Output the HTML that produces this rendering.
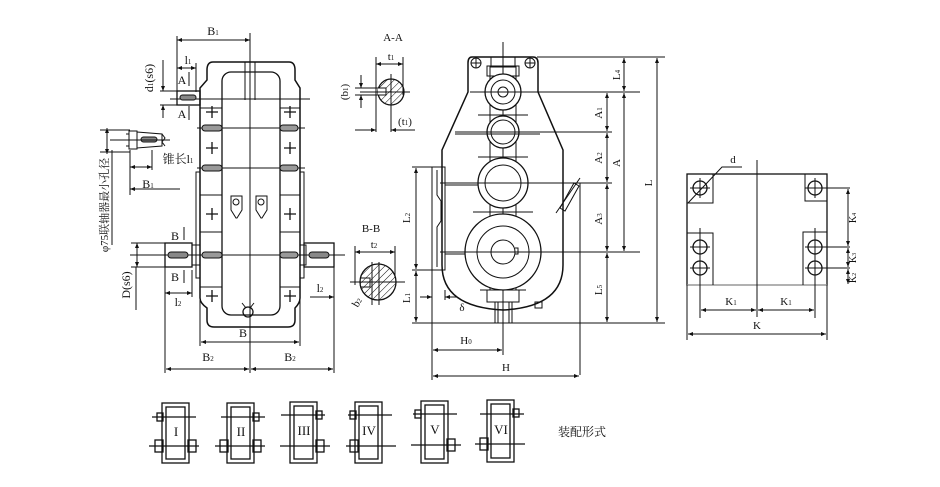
<!DOCTYPE html>
<html><head><meta charset="utf-8"><style>
html,body{margin:0;padding:0;background:#fff;}
svg{display:block;font-family:"Liberation Serif","Noto Serif CJK SC",serif;}
</style></head><body>
<svg width="940" height="487" viewBox="0 0 940 487" xmlns="http://www.w3.org/2000/svg">
<defs>
<marker id="a" viewBox="0 0 10 10" refX="10" refY="5" markerWidth="7" markerHeight="5" orient="auto-start-reverse"><path d="M0,1 L10,5 L0,9 z" fill="#111"/></marker>
<pattern id="h" width="5" height="5" patternUnits="userSpaceOnUse" patternTransform="rotate(45)"><line x1="0" y1="0" x2="0" y2="5" stroke="#111" stroke-width="1"/></pattern>
</defs>
<g stroke="#111" fill="none" stroke-width="1">
<!-- FRONT VIEW -->
<path d="M213,62 H289 Q295,62 295,70 V80 L300,88 V298 Q300,303 295,308 V320 Q295,327 288,327 H214 Q207,327 207,320 V308 Q200,303 200,298 V88 L207,80 V70 Q207,62 213,62 Z" stroke-width="1.5"/>
<rect x="222" y="72" width="58" height="243" rx="9" stroke-width="1.3"/>
<line x1="250" y1="33" x2="250" y2="373"/>
<line x1="245" y1="62" x2="245" y2="100"/><line x1="255" y1="62" x2="255" y2="100"/>
<line x1="170" y1="99" x2="310" y2="99"/>
<line x1="197" y1="128" x2="305" y2="128"/>
<line x1="197" y1="168" x2="305" y2="168"/>
<line x1="130" y1="255" x2="345" y2="255"/>
<g fill="#999" stroke="#111">
<rect x="202" y="125" width="20" height="6" rx="3"/><rect x="280" y="125" width="18" height="6" rx="3"/>
<rect x="202" y="165" width="20" height="6" rx="3"/><rect x="280" y="165" width="18" height="6" rx="3"/>
<rect x="202" y="252" width="20" height="6" rx="3"/><rect x="280" y="252" width="18" height="6" rx="3"/>
</g>
<g stroke-width="1.3">
<path d="M206,112 h12 M212,106 v12 M284,112 h12 M290,106 v12"/>
<path d="M206,148 h12 M212,142 v12 M284,148 h12 M290,142 v12"/>
<path d="M206,214 h12 M212,208 v12 M284,214 h12 M290,208 v12"/>
<path d="M206,296 h12 M212,290 v12 M284,296 h12 M290,290 v12"/>
</g>
<line x1="200" y1="108" x2="222" y2="108"/><line x1="280" y1="108" x2="300" y2="108"/>
<line x1="200" y1="195" x2="222" y2="195"/><line x1="280" y1="195" x2="300" y2="195"/>
<line x1="200" y1="232" x2="222" y2="232"/><line x1="280" y1="232" x2="300" y2="232"/>
<line x1="200" y1="287" x2="222" y2="287"/><line x1="280" y1="287" x2="300" y2="287"/>
<path d="M196,172 h4 v106 h-4 z M300,172 h4 v106 h-4 z"/>
<rect x="177" y="91" width="23" height="14" stroke-width="1.3"/>
<rect x="180" y="95" width="16" height="5" rx="2.5" fill="#888"/>
<rect x="165" y="243" width="27" height="24" stroke-width="1.3"/>
<rect x="168" y="252" width="20" height="6" rx="3" fill="#888"/>
<rect x="192" y="245" width="8" height="20"/>
<rect x="304" y="243" width="30" height="24" stroke-width="1.3"/>
<rect x="309" y="252" width="20" height="6" rx="3" fill="#888"/>
<rect x="300" y="245" width="6" height="20"/>
<path d="M231,196 h11 v14 l-5,8 h-1 l-5,-8 z M256,196 h11 v14 l-5,8 h-1 l-5,-8 z"/>
<circle cx="236" cy="202" r="3"/><circle cx="261" cy="202" r="3"/>
<circle cx="248" cy="312" r="5" stroke-width="1.3"/>
<path d="M242,303 l4,5 M254,303 l-4,5"/>
<!-- cone shaft -->
<path d="M129,131 h8 v18 h-8 z"/>
<path d="M137,132 L162,134 V146 L137,148 Z"/>
<rect x="141" y="137" width="16" height="5" rx="2.5" fill="#888"/>
<line x1="110" y1="140" x2="170" y2="140"/>
<line x1="126" y1="134" x2="129" y2="134"/><line x1="126" y1="146" x2="129" y2="146"/>
<path d="M162,134 l3,4 l-3,4 l3,4" />
<!-- dims front -->
<line x1="177" y1="40" x2="250" y2="40" marker-start="url(#a)" marker-end="url(#a)"/>
<line x1="177" y1="36" x2="177" y2="92"/>
<line x1="177" y1="68" x2="196" y2="68" marker-start="url(#a)" marker-end="url(#a)"/>
<line x1="196" y1="63" x2="196" y2="92"/>
<line x1="160" y1="91" x2="178" y2="91"/><line x1="160" y1="105" x2="178" y2="105"/>
<line x1="163" y1="60" x2="163" y2="91" marker-end="url(#a)"/><line x1="163" y1="118" x2="163" y2="105" marker-end="url(#a)"/>
<line x1="189" y1="72" x2="189" y2="86"/><line x1="189" y1="106" x2="189" y2="120"/>
<line x1="100" y1="130" x2="130" y2="130"/><line x1="100" y1="152" x2="130" y2="152"/>
<line x1="107" y1="128" x2="107" y2="154" marker-start="url(#a)" marker-end="url(#a)"/>
<line x1="112" y1="150" x2="112" y2="245"/>
<line x1="130" y1="150" x2="130" y2="195"/>
<line x1="130" y1="167" x2="152" y2="167" marker-start="url(#a)" marker-end="url(#a)"/>
<line x1="152" y1="150" x2="152" y2="170"/>
<line x1="130" y1="189" x2="180" y2="189" marker-start="url(#a)"/>
<line x1="131" y1="243" x2="165" y2="243"/><line x1="131" y1="267" x2="165" y2="267"/>
<line x1="137" y1="243" x2="137" y2="267" marker-start="url(#a)" marker-end="url(#a)"/>
<line x1="136" y1="267" x2="136" y2="310"/>
<line x1="184" y1="227" x2="184" y2="240"/><line x1="184" y1="270" x2="184" y2="283"/>
<line x1="165" y1="267" x2="165" y2="373"/>
<line x1="165" y1="293" x2="192" y2="293" marker-start="url(#a)" marker-end="url(#a)"/>
<line x1="192" y1="270" x2="192" y2="297"/>
<line x1="310" y1="297" x2="334" y2="297" marker-end="url(#a)"/>
<line x1="334" y1="267" x2="334" y2="373"/>
<line x1="200" y1="300" x2="200" y2="346"/><line x1="300" y1="300" x2="300" y2="346"/>
<line x1="201" y1="342" x2="299" y2="342" marker-start="url(#a)" marker-end="url(#a)"/>
<line x1="166" y1="369" x2="249" y2="369" marker-start="url(#a)" marker-end="url(#a)"/>
<line x1="251" y1="369" x2="333" y2="369" marker-start="url(#a)" marker-end="url(#a)"/>
<!-- A-A -->
<circle cx="391" cy="92" r="13" fill="url(#h)" stroke-width="1.3"/>
<path d="M378,88 h8 v7 h-8" fill="#fff"/>
<line x1="360" y1="92" x2="410" y2="92"/>
<line x1="391" y1="74" x2="391" y2="132"/>
<line x1="376" y1="57" x2="376" y2="132"/><line x1="403" y1="57" x2="403" y2="95"/>
<line x1="376" y1="64" x2="403" y2="64" marker-start="url(#a)" marker-end="url(#a)"/>
<line x1="355" y1="88" x2="378" y2="88"/><line x1="355" y1="95" x2="378" y2="95"/>
<line x1="361" y1="75" x2="361" y2="88" marker-end="url(#a)"/><line x1="361" y1="108" x2="361" y2="95" marker-end="url(#a)"/>
<line x1="355" y1="130" x2="376" y2="130" marker-end="url(#a)"/><line x1="415" y1="130" x2="391" y2="130" marker-end="url(#a)"/>
<!-- B-B -->
<circle cx="378" cy="282" r="18" fill="url(#h)" stroke-width="1.3"/>
<path d="M360,278 h10 v9 h-10" fill="none"/>
<line x1="350" y1="282" x2="405" y2="282"/>
<line x1="372" y1="262" x2="372" y2="305"/><line x1="379" y1="262" x2="379" y2="305"/>
<line x1="355" y1="246" x2="355" y2="285"/><line x1="395" y1="246" x2="395" y2="278"/>
<line x1="355" y1="252" x2="395" y2="252" marker-start="url(#a)" marker-end="url(#a)"/>
<!-- SIDE VIEW -->
<line x1="503" y1="42" x2="503" y2="355"/>
<path d="M472,57 H533 Q538,57 538,63 V92 L563,150 V265 Q563,307 503,310 Q442,307 442,265 V150 L468,92 V63 Q468,57 472,57 Z" stroke-width="1.5"/>
<circle cx="476" cy="63" r="5"/><circle cx="530" cy="63" r="5"/>
<path d="M471,63 h10 M476,58 v10 M525,63 h10 M530,58 v10"/>
<rect x="491" y="57" width="24" height="10"/>
<rect x="487" y="66" width="32" height="10"/>
<path d="M490,66 V290 M516,66 V290"/>
<circle cx="503" cy="92" r="18" fill="#fff" stroke-width="1.3"/><circle cx="503" cy="92" r="12"/><circle cx="503" cy="92" r="5"/>
<circle cx="503" cy="132" r="16" fill="#fff" stroke-width="1.3"/><circle cx="503" cy="132" r="12"/>
<circle cx="503" cy="183" r="25" fill="#fff" stroke-width="1.3"/><circle cx="503" cy="183" r="18"/>
<circle cx="503" cy="252" r="38" fill="#fff" stroke-width="1.3"/><circle cx="503" cy="252" r="26"/><circle cx="503" cy="252" r="12"/>
<path d="M515,248 h3 v6 h-3"/>
<line x1="470" y1="92" x2="640" y2="92"/>
<line x1="455" y1="132" x2="612" y2="132"/><line x1="455" y1="134" x2="540" y2="134"/>
<line x1="440" y1="183" x2="612" y2="183"/><line x1="445" y1="185" x2="478" y2="185"/>
<line x1="440" y1="252" x2="640" y2="252"/><line x1="445" y1="254" x2="465" y2="254"/>
<path d="M478,115 h50 M478,157 h50 M473,212 h60 M480,290 h46"/>
<path d="M487,290 v12 h32 v-12"/>
<path d="M495,302 v21 M512,302 v21 M498,302 v21 M509,302 v21"/>
<rect x="535" y="302" width="7" height="6"/>
<path d="M432,167 h13 v103 h-13 z"/>
<path d="M437,170 v25 l4,6 v20 l-4,6 v40"/>
<path d="M560,208 L574,183 l5,3 L565,211 z"/>
<line x1="556" y1="213" x2="580" y2="178"/>
<line x1="580" y1="183" x2="580" y2="375"/>
<line x1="537" y1="57" x2="665" y2="57"/>
<line x1="412" y1="323" x2="665" y2="323"/>
<line x1="412" y1="167" x2="432" y2="167"/><line x1="412" y1="270" x2="432" y2="270"/>
<line x1="416" y1="168" x2="416" y2="269" marker-start="url(#a)" marker-end="url(#a)"/>
<line x1="416" y1="271" x2="416" y2="322" marker-start="url(#a)" marker-end="url(#a)"/>
<line x1="432" y1="270" x2="432" y2="380"/>
<line x1="445" y1="290" x2="445" y2="300"/>
<line x1="420" y1="297" x2="432" y2="297" marker-end="url(#a)"/><line x1="457" y1="297" x2="445" y2="297" marker-end="url(#a)"/>
<line x1="624" y1="58" x2="624" y2="91" marker-start="url(#a)" marker-end="url(#a)"/>
<line x1="607" y1="93" x2="607" y2="131" marker-start="url(#a)" marker-end="url(#a)"/>
<line x1="607" y1="133" x2="607" y2="182" marker-start="url(#a)" marker-end="url(#a)"/>
<line x1="607" y1="184" x2="607" y2="251" marker-start="url(#a)" marker-end="url(#a)"/>
<line x1="607" y1="253" x2="607" y2="322" marker-start="url(#a)" marker-end="url(#a)"/>
<line x1="624" y1="93" x2="624" y2="251" marker-start="url(#a)" marker-end="url(#a)"/>
<line x1="657" y1="58" x2="657" y2="322" marker-start="url(#a)" marker-end="url(#a)"/>
<line x1="433" y1="350" x2="502" y2="350" marker-start="url(#a)" marker-end="url(#a)"/>
<line x1="433" y1="376" x2="579" y2="376" marker-start="url(#a)" marker-end="url(#a)"/>
<!-- PLAN VIEW -->
<rect x="687" y="174" width="140" height="111" stroke-width="1.3"/>
<line x1="687" y1="285" x2="827" y2="285" stroke="#aaa"/>
<line x1="757" y1="160" x2="757" y2="317"/>
<rect x="687" y="174" width="26" height="29"/><rect x="805" y="174" width="22" height="27"/>
<circle cx="700" cy="188" r="7" stroke-width="1.3"/><circle cx="815" cy="188" r="7" stroke-width="1.3"/>
<path d="M690,188 h20 M700,178 v20 M805,188 h45 M815,178 v20"/>
<path d="M687,233 h26 v52 M827,232 h-24 v53"/>
<circle cx="700" cy="247" r="7" stroke-width="1.3"/><circle cx="700" cy="268" r="7" stroke-width="1.3"/>
<circle cx="815" cy="247" r="7" stroke-width="1.3"/><circle cx="815" cy="268" r="7" stroke-width="1.3"/>
<path d="M690,247 h20 M690,268 h20 M700,228 v90 M805,247 h45 M805,268 h45 M815,228 v90"/>
<path d="M688,203 L722,167 H742"/>
<line x1="848" y1="189" x2="848" y2="246" marker-start="url(#a)" marker-end="url(#a)"/>
<line x1="848" y1="248" x2="848" y2="267" marker-start="url(#a)" marker-end="url(#a)"/>
<line x1="848" y1="269" x2="848" y2="284" marker-start="url(#a)" marker-end="url(#a)"/>
<line x1="687" y1="285" x2="687" y2="340"/><line x1="827" y1="285" x2="827" y2="340"/>
<line x1="701" y1="310" x2="756" y2="310" marker-start="url(#a)" marker-end="url(#a)"/>
<line x1="758" y1="310" x2="814" y2="310" marker-start="url(#a)" marker-end="url(#a)"/>
<line x1="688" y1="334" x2="826" y2="334" marker-start="url(#a)" marker-end="url(#a)"/>
<!-- ASSEMBLY ICONS -->
<g stroke-width="1.3">
<rect x="162" y="403" width="27" height="60"/><rect x="166" y="407" width="19" height="52"/>
<path d="M152,417 h44 M149,446 h50"/><rect x="157" y="413" width="6" height="8"/><rect x="188" y="440" width="8" height="12"/><rect x="155" y="440" width="8" height="12"/>
<rect x="227" y="403" width="27" height="60"/><rect x="231" y="407" width="19" height="52"/>
<path d="M221,417 h44 M215,446 h50"/><rect x="253" y="413" width="6" height="8"/><rect x="220" y="440" width="8" height="12"/><rect x="253" y="440" width="8" height="12"/>
<rect x="290" y="402" width="27" height="61"/><rect x="294" y="406" width="19" height="53"/>
<path d="M281,415 h44 M280,446 h50"/><rect x="316" y="411" width="6" height="8"/><rect x="316" y="440" width="8" height="12"/>
<rect x="355" y="402" width="27" height="61"/><rect x="359" y="406" width="19" height="53"/>
<path d="M348,415 h44 M346,446 h50"/><rect x="350" y="411" width="6" height="8"/><rect x="350" y="440" width="8" height="12"/>
<rect x="421" y="401" width="27" height="62"/><rect x="425" y="405" width="19" height="54"/>
<path d="M413,414 h44 M411,445 h50"/><rect x="415" y="410" width="6" height="8"/><rect x="447" y="439" width="8" height="12"/>
<rect x="487" y="400" width="27" height="62"/><rect x="491" y="404" width="19" height="54"/>
<path d="M480,414 h44 M475,444 h50"/><rect x="513" y="409" width="6" height="8"/><rect x="480" y="438" width="8" height="12"/>
</g>
</g>
<g fill="#111" font-size="12" text-anchor="middle">
<text x="213" y="35">B<tspan font-size="7">1</tspan></text>
<text x="188" y="64">l<tspan font-size="7">1</tspan></text>
<text x="182" y="84">A</text><text x="182" y="118">A</text>
<text transform="translate(153,78) rotate(-90)">d<tspan font-size="7">1</tspan>(s6)</text>
<text x="178" y="163">锥长l<tspan font-size="7">1</tspan></text>
<text x="148" y="188">B<tspan font-size="7">1</tspan></text>
<text transform="translate(108,205) rotate(-90)" font-size="11">φ75联轴器最小孔径</text>
<text x="175" y="240">B</text><text x="175" y="281">B</text>
<text transform="translate(130,285) rotate(-90)">D(s6)</text>
<text x="178" y="306">l<tspan font-size="7">2</tspan></text>
<text x="320" y="292">l<tspan font-size="7">2</tspan></text>
<text x="243" y="337">B</text>
<text x="208" y="361">B<tspan font-size="7">2</tspan></text>
<text x="290" y="361">B<tspan font-size="7">2</tspan></text>
<text x="393" y="41" font-size="11">A-A</text>
<text x="391" y="60" font-size="11">t<tspan font-size="7">1</tspan></text>
<text transform="translate(348,92) rotate(-90)" font-size="11">(b<tspan font-size="7">1</tspan>)</text>
<text x="405" y="125" font-size="11">(t<tspan font-size="7">1</tspan>)</text>
<text x="371" y="232" font-size="11">B-B</text>
<text x="374" y="248" font-size="11">t<tspan font-size="7">2</tspan></text>
<text transform="translate(360,304) rotate(-60)" font-size="11">b<tspan font-size="7">2</tspan></text>
<text transform="translate(410,218) rotate(-90)" font-size="11">L<tspan font-size="7">2</tspan></text>
<text transform="translate(410,298) rotate(-90)" font-size="11">L<tspan font-size="7">1</tspan></text>
<text x="462" y="311" font-size="11">δ</text>
<text x="466" y="344" font-size="11">H<tspan font-size="7">0</tspan></text>
<text x="506" y="371" font-size="11">H</text>
<text transform="translate(620,75) rotate(-90)" font-size="11">L<tspan font-size="7">4</tspan></text>
<text transform="translate(602,113) rotate(-90)" font-size="11">A<tspan font-size="7">1</tspan></text>
<text transform="translate(602,158) rotate(-90)" font-size="11">A<tspan font-size="7">2</tspan></text>
<text transform="translate(602,219) rotate(-90)" font-size="11">A<tspan font-size="7">3</tspan></text>
<text transform="translate(602,290) rotate(-90)" font-size="11">L<tspan font-size="7">5</tspan></text>
<text transform="translate(620,163) rotate(-90)" font-size="11">A</text>
<text transform="translate(652,183) rotate(-90)" font-size="11">L</text>
<text x="733" y="163" font-size="11">d</text>
<text transform="translate(856,218) rotate(-90)" font-size="10">K<tspan font-size="6">4</tspan></text>
<text transform="translate(856,258) rotate(-90)" font-size="10">K<tspan font-size="6">3</tspan></text>
<text transform="translate(856,278) rotate(-90)" font-size="10">K<tspan font-size="6">2</tspan></text>
<text x="731" y="305" font-size="11">K<tspan font-size="7">1</tspan></text>
<text x="786" y="305" font-size="11">K<tspan font-size="7">1</tspan></text>
<text x="757" y="329" font-size="11">K</text>
<g font-size="13">
<text x="176" y="436">I</text><text x="241" y="436">II</text><text x="304" y="435">III</text>
<text x="369" y="435">IV</text><text x="435" y="434">V</text><text x="501" y="434">VI</text>
</g>
<text x="582" y="436" font-size="12">装配形式</text>
</g>
</svg>
</body></html>
